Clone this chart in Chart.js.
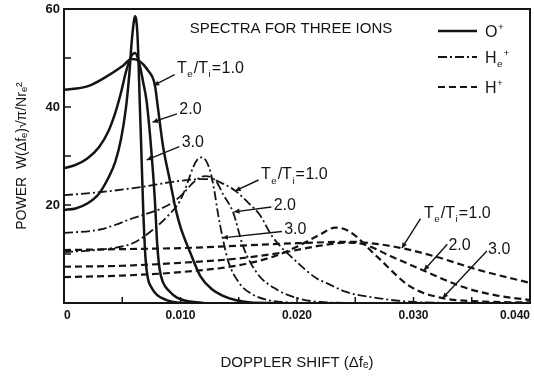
<!DOCTYPE html>
<html>
<head>
<meta charset="utf-8">
<script src="https://cdn.jsdelivr.net/npm/chart.js@4.4.1/dist/chart.umd.min.js"></script>
<style>
  html, body { margin: 0; padding: 0; background: #fff; }
</style>
</head>
<body>
<canvas id="spectra_chart" width="534" height="377"></canvas>
<script>
// Spectres pour trois ions (O+, He+, H+), Te/Ti = 1.0, 2.0, 3.0
// chaque point : [decalage Doppler, puissance]
var ratios = ["1.0", "2.0", "3.0"];

// O+ (trait plein)
var o_10 = [[0,43.5],[0.002,44.2],[0.0035,46],[0.005,48.3],[0.0058,49.8],[0.0064,49.5],[0.0072,47.5],[0.0078,44.5],[0.0080,41],[0.0085,32],[0.0090,26],[0.0093,22.5],[0.0096,19],[0.0100,15.5],[0.0108,10.5],[0.0117,5.5],[0.0127,2.8],[0.0136,1.5],[0.0147,0.6],[0.016,0.1],[0.018,0]];
var o_20 = [[0,27.5],[0.001,28.2],[0.002,29.5],[0.003,31.8],[0.0038,35],[0.0044,38.8],[0.0049,43],[0.0053,47],[0.0057,50],[0.0061,51],[0.0065,48.5],[0.0068,45],[0.0071,41],[0.0075,31],[0.0078,21],[0.0080,12],[0.0082,7],[0.0085,4.2],[0.0090,2.5],[0.0097,1.1],[0.0108,0.3],[0.012,0]];
var o_30 = [[0,19],[0.001,19.3],[0.002,20.3],[0.003,22.3],[0.0038,25.5],[0.0044,28.8],[0.0049,33.5],[0.0053,39.5],[0.0056,46.5],[0.0058,53],[0.0060,57.5],[0.0061,58.5],[0.0062,57.8],[0.0063,55],[0.0064,49],[0.0065,41],[0.0066,34],[0.0068,19],[0.0070,9],[0.0072,5],[0.0075,3.2],[0.0080,1.6],[0.0088,0.6],[0.0097,0.1],[0.011,0]];

// He+ (trait mixte)
var he_10 = [[0,22],[0.003,22.6],[0.0067,23.7],[0.009,24.6],[0.011,25.2],[0.0125,25.3],[0.0137,24.3],[0.0147,22.9],[0.0158,20.5],[0.0168,18],[0.0179,13.5],[0.0197,9],[0.0217,5],[0.0226,4],[0.0243,2.2],[0.0269,1],[0.030,0.2],[0.034,0]];
var he_20 = [[0,14.3],[0.0031,15],[0.0059,17.3],[0.0088,19.8],[0.0100,21.8],[0.0112,24.8],[0.0121,25.9],[0.0130,25],[0.0137,22],[0.0145,18.6],[0.0154,11.4],[0.0166,6],[0.0183,2.7],[0.020,1],[0.022,0.2],[0.025,0]];
var he_30 = [[0,10.4],[0.0031,10.9],[0.0059,12.2],[0.0076,14.9],[0.0090,18],[0.0100,21],[0.0106,24.5],[0.0111,27.8],[0.0115,29.4],[0.0118,29.7],[0.0122,29],[0.0126,26.5],[0.0129,23],[0.0132,18.5],[0.0136,13.5],[0.0141,8.5],[0.015,4.2],[0.016,2],[0.0175,0.6],[0.020,0]];

// H+ (tirets)
var h_10 = [[0,10.8],[0.005,11],[0.010,11.2],[0.015,11.7],[0.020,12.2],[0.0245,12.5],[0.027,12],[0.029,11.2],[0.032,9.4],[0.0355,6.8],[0.040,4.1]];
var h_20 = [[0,7.4],[0.005,7.6],[0.010,8.2],[0.015,9.1],[0.019,10.4],[0.022,11.7],[0.0242,12.3],[0.0257,12],[0.028,9.6],[0.0308,6.7],[0.0342,3.3],[0.037,1.6],[0.040,0.6]];
var h_30 = [[0,5.3],[0.005,5.6],[0.010,6.3],[0.015,7.7],[0.018,9.5],[0.020,11.5],[0.022,14],[0.0233,15.4],[0.0245,14.6],[0.0269,9.4],[0.0297,3.4],[0.0323,1.1],[0.036,0.3],[0.040,0.1]];

var x_max = 0.040;
var y_max = 60;

var ink = "#141414";
var dash_he = [9, 3, 2, 3];
var dash_h = [7, 4];

function pts(arr) {
  return arr.map(function(p) { return {x: p[0], y: p[1]}; });
}

function serie(label, arr, width, dash) {
  return {
    label: label,
    data: pts(arr),
    borderColor: ink,
    borderWidth: width,
    borderDash: dash,
    pointRadius: 0,
    fill: false,
    cubicInterpolationMode: "monotone"
  };
}

// texte avec indices / exposants : [texte, "" | "sub" | "sup"]
function rich(ctx, parts, x, y, size) {
  parts.forEach(function(p) {
    var s = p[1] ? size * 0.62 : size;
    var dy = p[1] === "sub" ? size * 0.28 : (p[1] === "sup" ? -size * 0.42 : 0);
    ctx.font = s + "px 'Liberation Sans', 'DejaVu Sans', sans-serif";
    ctx.fillText(p[0], x, y + dy);
    x += ctx.measureText(p[0]).width + (p[1] ? 1 : 0.5);
  });
}

function ratioParts(r, full) {
  if (!full) return [[r, ""]];
  return [["T", ""], ["e", "sub"], ["/T", ""], ["i", "sub"], ["=", ""], [r, ""]];
}

// etiquettes Te/Ti (unites des axes) : texte, queue et pointe de la fleche
var notes = [
  {r: ratios[0], full: true,  tx: 0.0097, ty: 47.0, ax: 0.0095, ay: 46.6, bx: 0.0077, by: 44.4},
  {r: ratios[1], full: false, tx: 0.0099, ty: 38.6, ax: 0.0097, ay: 38.6, bx: 0.0076, by: 36.9},
  {r: ratios[2], full: false, tx: 0.0101, ty: 31.9, ax: 0.0099, ay: 31.9, bx: 0.0071, by: 29.2},
  {r: ratios[0], full: true,  tx: 0.0169, ty: 25.3, ax: 0.0167, ay: 25.1, bx: 0.0147, by: 22.9},
  {r: ratios[1], full: false, tx: 0.0180, ty: 19.0, ax: 0.0178, ay: 19.6, bx: 0.0146, by: 18.6},
  {r: ratios[2], full: false, tx: 0.0189, ty: 14.1, ax: 0.0187, ay: 14.6, bx: 0.0136, by: 13.3},
  {r: ratios[0], full: true,  tx: 0.0309, ty: 17.4, ax: 0.0306, ay: 17.2, bx: 0.0290, by: 11.2},
  {r: ratios[1], full: false, tx: 0.0330, ty: 10.8, ax: 0.0329, ay: 12.0, bx: 0.0309, by: 6.7},
  {r: ratios[2], full: false, tx: 0.0364, ty: 10.0, ax: 0.0363, ay: 10.6, bx: 0.0325, by: 1.0}
];

var decor = {
  id: "decor",
  afterDraw: function(chart) {
    var ctx = chart.ctx, a = chart.chartArea;
    var xs = chart.scales.x, ys = chart.scales.y;
    ctx.save();
    ctx.strokeStyle = ink;
    ctx.fillStyle = ink;

    // cadre
    ctx.lineWidth = 2;
    ctx.strokeRect(a.left, a.top, a.right - a.left, a.bottom - a.top);

    // graduations vers l'interieur
    ctx.lineWidth = 1.5;
    xs.ticks.forEach(function(t) {
      var px = xs.getPixelForValue(t.value);
      if (px <= a.left + 1 || px >= a.right - 1) return;
      ctx.beginPath(); ctx.moveTo(px, a.bottom); ctx.lineTo(px, a.bottom - 6); ctx.stroke();
    });
    ys.ticks.forEach(function(t) {
      var py = ys.getPixelForValue(t.value);
      if (py >= a.bottom - 1 || py <= a.top + 1) return;
      ctx.beginPath(); ctx.moveTo(a.left, py); ctx.lineTo(a.left + 7, py); ctx.stroke();
    });

    // titre
    ctx.textBaseline = "alphabetic";
    ctx.font = "15px 'Liberation Sans', 'DejaVu Sans', sans-serif";
    ctx.textAlign = "center";
    ctx.fillText("SPECTRA FOR THREE IONS", a.left + 227, a.top + 24);
    ctx.textAlign = "left";

    // legende
    var leg = [
      {dash: [], w: 2.5, parts: [["O", ""], ["+", "sup"]]},
      {dash: dash_he, w: 2, parts: [["H", ""], ["e", "sub"], ["+", "sup"]]},
      {dash: dash_h, w: 2, parts: [["H", ""], ["+", "sup"]]}
    ];
    var ly = [a.top + 22, a.top + 48, a.top + 78];
    leg.forEach(function(l, i) {
      ctx.lineWidth = l.w;
      ctx.setLineDash(l.dash);
      ctx.beginPath(); ctx.moveTo(a.right - 92, ly[i]); ctx.lineTo(a.right - 53, ly[i]); ctx.stroke();
      ctx.setLineDash([]);
      rich(ctx, l.parts, a.right - 45, ly[i] + 6, 16);
    });

    // etiquettes et fleches
    notes.forEach(function(n) {
      var x0 = xs.getPixelForValue(n.ax), y0 = ys.getPixelForValue(n.ay);
      var x1 = xs.getPixelForValue(n.bx), y1 = ys.getPixelForValue(n.by);
      ctx.lineWidth = 1.4;
      ctx.beginPath(); ctx.moveTo(x0, y0); ctx.lineTo(x1, y1); ctx.stroke();
      var ang = Math.atan2(y1 - y0, x1 - x0);
      ctx.beginPath();
      ctx.moveTo(x1, y1);
      ctx.lineTo(x1 - 6 * Math.cos(ang - 0.45), y1 - 6 * Math.sin(ang - 0.45));
      ctx.lineTo(x1 - 6 * Math.cos(ang + 0.45), y1 - 6 * Math.sin(ang + 0.45));
      ctx.closePath(); ctx.fill();
      rich(ctx, ratioParts(n.r, n.full), xs.getPixelForValue(n.tx), ys.getPixelForValue(n.ty), 16);
    });
    ctx.restore();
  }
};

Chart.defaults.font.family = "'Liberation Sans', 'DejaVu Sans', sans-serif";
Chart.defaults.color = ink;

var ctx = document.getElementById("spectra_chart");
var spectra_chart = new Chart(ctx, {
  type: "line",
  data: {
    datasets: [
      serie("O+ " + ratios[0], o_10, 2.5, []),
      serie("O+ " + ratios[1], o_20, 2.5, []),
      serie("O+ " + ratios[2], o_30, 2.5, []),
      serie("He+ " + ratios[0], he_10, 1.8, dash_he),
      serie("He+ " + ratios[1], he_20, 1.8, dash_he),
      serie("He+ " + ratios[2], he_30, 1.8, dash_he),
      serie("H+ " + ratios[0], h_10, 2.2, dash_h),
      serie("H+ " + ratios[1], h_20, 2.2, dash_h),
      serie("H+ " + ratios[2], h_30, 2.2, dash_h)
    ]
  },
  options: {
    animation: false,
    responsive: false,
    maintainAspectRatio: false,
    devicePixelRatio: 1,
    layout: { padding: { left: 0, right: 4, top: 9, bottom: 0 } },
    plugins: {
      legend: { display: false },
      tooltip: { enabled: false }
    },
    scales: {
      x: {
        type: "linear",
        min: 0,
        max: x_max,
        grid: { display: false, drawTicks: false },
        border: { display: false },
        ticks: {
          stepSize: 0.005,
          padding: 5,
          maxRotation: 0,
          autoSkip: false,
          align: "inner",
          font: { size: 12, weight: "bold" },
          callback: function(v) {
            var m = Math.round(v * 1000);
            if (m === 0) return "0";
            return m % 10 === 0 ? (m / 1000).toFixed(3) : "";
          }
        },
        title: {
          display: true,
          text: "DOPPLER SHIFT (Δfₑ)",
          font: { size: 15 },
          padding: { top: 0, bottom: 5 }
        },
        afterFit: function(scale) {
          scale.height = 74;
          scale.paddingLeft = 0;
          scale.paddingRight = 0;
        }
      },
      y: {
        min: 0,
        max: y_max,
        grid: { display: false, drawTicks: false },
        border: { display: false },
        ticks: {
          stepSize: 10,
          padding: 4,
          font: { size: 13, weight: "bold" },
          callback: function(v) {
            return (v > 0 && v % 20 === 0) ? String(v) : "";
          }
        },
        title: {
          display: true,
          text: "POWER  W(Δfₑ)√π/Nrₑ²",
          font: { size: 14 },
          padding: { top: 14, bottom: 0 }
        },
        afterFit: function(scale) {
          scale.width = 64;
          scale.paddingTop = 0;
          scale.paddingBottom = 0;
        }
      }
    }
  },
  plugins: [decor]
});
</script>
</body>
</html>
